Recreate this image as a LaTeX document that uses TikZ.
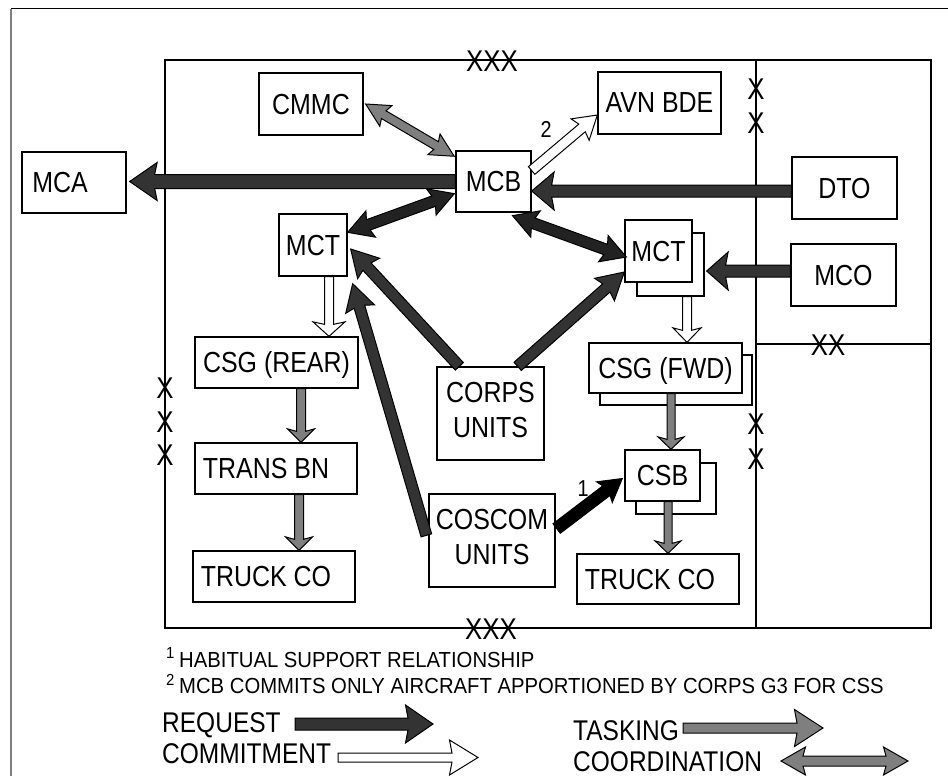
\documentclass[tikz,border=0pt]{standalone}
\usepackage{fontspec}
\setmainfont{Liberation Sans}[FakeStretch=0.86]
\newfontfamily\lgdfont{Liberation Sans}[FakeStretch=0.93]
\usetikzlibrary{calc}
\definecolor{req}{HTML}{333333}
\definecolor{dk}{HTML}{222222}
\definecolor{task}{HTML}{7F7F7F}
\newcommand\sarr[6]{%
  \path let \p1=(#2), \p2=(#3) in \pgfextra{%
    \pgfmathsetmacro\tmpang{atan2((\y2)-(\y1),(\x2)-(\x1))}%
    \pgfmathsetmacro\tmplen{veclen((\x2)-(\x1),(\y2)-(\y1))}%
    \global\let\arang\tmpang \global\let\arlen\tmplen};
  \begin{scope}[shift={(#2)},rotate=\arang]
    \filldraw[#1] (0,-#4) -- ({\arlen-#6},-#4) -- ({\arlen-#6-2.5},-#5) -- (\arlen,0)
      -- ({\arlen-#6-2.5},#5) -- ({\arlen-#6},#4) -- (0,#4) -- cycle;
  \end{scope}}
\newcommand\darr[6]{%
  \path let \p1=(#2), \p2=(#3) in \pgfextra{%
    \pgfmathsetmacro\tmpang{atan2((\y2)-(\y1),(\x2)-(\x1))}%
    \pgfmathsetmacro\tmplen{veclen((\x2)-(\x1),(\y2)-(\y1))}%
    \global\let\arang\tmpang \global\let\arlen\tmplen};
  \begin{scope}[shift={(#2)},rotate=\arang]
    \filldraw[#1] (0,0) -- ({#6+2.5},-#5) -- (#6,-#4) -- ({\arlen-#6},-#4) -- ({\arlen-#6-2.5},-#5) -- (\arlen,0)
      -- ({\arlen-#6-2.5},#5) -- ({\arlen-#6},#4) -- (#6,#4) -- ({#6+2.5},#5) -- cycle;
  \end{scope}}
\begin{document}
\begin{tikzpicture}[x=1pt,y=-1pt,
  box/.style 2 args={draw, fill=white, line width=1.3pt, inner sep=0pt,
    minimum width=#1, minimum height=#2,
    font=\fontsize{29}{34}\selectfont, text height=20pt, text depth=0pt},
  mainlbl/.style={font=\fontsize{29}{34}\selectfont, inner sep=0pt, text height=20pt, text depth=0pt},
  xmark/.style={font=\fontsize{30}{30}\selectfont, inner sep=0pt, text height=20.5pt, text depth=0pt},
  numlbl/.style={font=\fontsize{23}{23}\selectfont, inner sep=0pt},
  lgd/.style={font=\lgdfont\fontsize{21.8}{24}\selectfont, inner sep=0pt, anchor=base west},
  lgdbig/.style={font=\fontsize{28.5}{34}\selectfont, inner sep=0pt, anchor=base west},
  sup/.style={font=\lgdfont\fontsize{16}{16}\selectfont, inner sep=0pt, anchor=base west},
  ar/.style={draw=black, line width=1pt, line join=miter, fill=#1}]
\useasboundingbox (0,0) rectangle (948,776);
\fill[white] (0,0) rectangle (948,776);
% outer frame
\draw[gray, line width=1.5pt] (11,9) -- (11,776);
\draw[line width=1pt] (11,9) -- (948,9);
% corps and division boxes
\draw[line width=1.1pt] (165,60) rectangle (756,628);
\draw[line width=1.6pt] (756,60) -- (931,60) -- (931,628) -- (756,628);
\draw[line width=1.1pt] (756,344) -- (931,344);
% echelon marks
\node[xmark] (xt) at (492,61) {XXX};
\node[xmark] (xb) at (491,629) {XXX};
\node[xmark] (xl1) at (165,388) {X};
\node[xmark] (xl2) at (165,422) {X};
\node[xmark] (xl3) at (165,455) {X};
\node[xmark] (xr1) at (756,89) {X};
\node[xmark] (xr2) at (756,123) {X};
\node[xmark] (xr3) at (756,424) {X};
\node[xmark] (xr4) at (756,459) {X};
\node[xmark] (xx) at (828,345) {XX};
% nodes
\node[box={104}{61}] (MCA) at (74,182.5) {MCA\hspace*{28pt}};
\node[box={104}{62}] (CMMC) at (311,104) {CMMC};
\node[box={75}{61}] (MCB) at (493.5,181.5) {MCB};
\node[box={123}{62}] (AVN) at (659.5,103) {AVN BDE};
\node[box={105}{62}] (DTO) at (844.5,188) {DTO};
\node[box={105}{62}] (MCO) at (843.5,275) {MCO};
\node[box={68}{62}] (MCTL) at (313,245) {MCT};
\node[box={67}{63}] (MCTRb) at (670.5,264.5) {};
\node[box={67}{62}] (MCTR) at (658.5,251) {MCT};
\node[box={163}{51}] (CSGR) at (276.5,362.5) {CSG (REAR)};
\node[box={162}{51}] (TRANS) at (276,468.5) {TRANS BN\hspace*{20pt}};
\node[box={162}{51}] (TRUCKL) at (274,576.5) {TRUCK CO\hspace*{16pt}};
\node[box={107}{93}, label={[mainlbl,yshift=21pt]center:CORPS}, label={[mainlbl,yshift=-13.5pt]center:UNITS}] (CORPS) at (490.5,413.5) {};
\node[box={126}{93}, label={[mainlbl,yshift=21.5pt]center:COSCOM}, label={[mainlbl,yshift=-13.5pt]center:UNITS}] (COSCOM) at (492,540.5) {};
\node[box={152}{50}] (CSGFb) at (676,380) {};
\node[box={153}{50}] (CSGF) at (665.5,368) {CSG (FWD)};
\node[box={80}{51}] (CSBb) at (676,488.5) {};
\node[box={75}{51}] (CSB) at (662.5,475.5) {CSB};
\node[box={162}{50}] (TRUCKR) at (658,579) {TRUCK CO\hspace*{16pt}};
% arrows
\sarr{ar=req}{MCB.west}{$(MCA.east)+(3,-1)$}{7}{19}{25}
\sarr{ar=req}{$(DTO.west)+(0,3)$}{$(MCB.east|-DTO.west)+(0,3)$}{6}{19}{20}
\sarr{ar=req}{$(MCO.west)+(0,-4)$}{$(MCTRb.east|-MCO.west)+(2,-4)$}{6}{19}{19}
\darr{ar=task}{$(CMMC.east)+(2,0)$}{$(MCB.north west)+(-1,6)$}{4.5}{12}{21}
\sarr{ar=white}{$(MCB.east)+(0,-11)$}{$(AVN.west)+(0,12)$}{5}{14}{20}
\darr{ar=dk}{$(MCTL.north east)+(0,19)$}{$(MCB.south west)+(-1,-19)$}{5.5}{14}{22}
\darr{ar=dk}{$(MCB.south)+(19,3)$}{$(MCTR.west)+(2,6)$}{5.5}{14}{22}
\sarr{ar=req}{$(CORPS.north west)+(23,0)$}{$(MCTL.east)+(3,4)$}{5.5}{15}{24}
\sarr{ar=req}{$(COSCOM.north west)+(-2,42)$}{$(MCTL.south east)+(5,7)$}{5.5}{15}{24}
\sarr{ar=req}{$(CORPS.north east)+(-27,0)$}{$(MCTR.west)+(0,21)$}{5.5}{15}{24}
\sarr{ar=black}{$(COSCOM.east)+(1,-12)$}{$(CSB.west)+(-2,3)$}{6}{13}{20}
\sarr{ar=white}{$(MCTL.south)+(16,0)$}{$(MCTL.south|-CSGR.north)+(16,0)$}{4.5}{16}{12}
\sarr{ar=white}{$(MCTRb.south)+(16.5,0)$}{$(MCTRb.south|-CSGF.north)+(16.5,0)$}{4.5}{14}{12}
\sarr{ar=task}{$(CSGR.south)+(24.5,0)$}{$(CSGR.south|-TRANS.north)+(24.5,0)$}{4.5}{13.5}{11}
\sarr{ar=task}{$(TRANS.south)+(23,0)$}{$(TRANS.south|-TRUCKL.north)+(23,0)$}{4.5}{13.5}{11}
\sarr{ar=task}{$(CSGF.south)+(5.5,0)$}{$(CSGF.south|-CSB.north)+(5.5,0)$}{4}{13}{10}
\sarr{ar=task}{$(CSB.south)+(5.5,0)$}{$(CSB.south|-TRUCKR.north)+(5.5,0)$}{4}{13}{10}
\node[numlbl] (lab2) at (546,129) {2};
\node[numlbl] (lab1) at (583,489) {1};
% legend
\node[sup] (s1) at (166,658) {1};
\node[lgd] (n1) at (179,667) {HABITUAL SUPPORT RELATIONSHIP};
\node[sup] (s2) at (166,685) {2};
\node[lgd] (n2) at (179,693) {MCB COMMITS ONLY AIRCRAFT APPORTIONED BY CORPS G3 FOR CSS};
\node[lgdbig] (lreq) at (162,732) {REQUEST};
\node[lgdbig] (lcom) at (162,763) {COMMITMENT};
\node[lgdbig] (ltask) at (573,740) {TASKING};
\node[lgdbig] (lcoord) at (573,771.5) {COORDINATION};
\coordinate (rq1) at (295,724); \coordinate (rq2) at (433,724);
\coordinate (cm1) at (338,757.5); \coordinate (cm2) at (478,757.5);
\coordinate (tk1) at (683,728); \coordinate (tk2) at (823,728);
\coordinate (co1) at (781,761); \coordinate (co2) at (908,761);
\sarr{ar=req}{rq1}{rq2}{6}{19}{25}
\sarr{ar=white}{cm1}{cm2}{4.5}{17.5}{26}
\sarr{ar=task}{tk1}{tk2}{5}{18.5}{26}
\darr{ar=task}{co1}{co2}{5}{14}{22}
\end{tikzpicture}
\end{document}
